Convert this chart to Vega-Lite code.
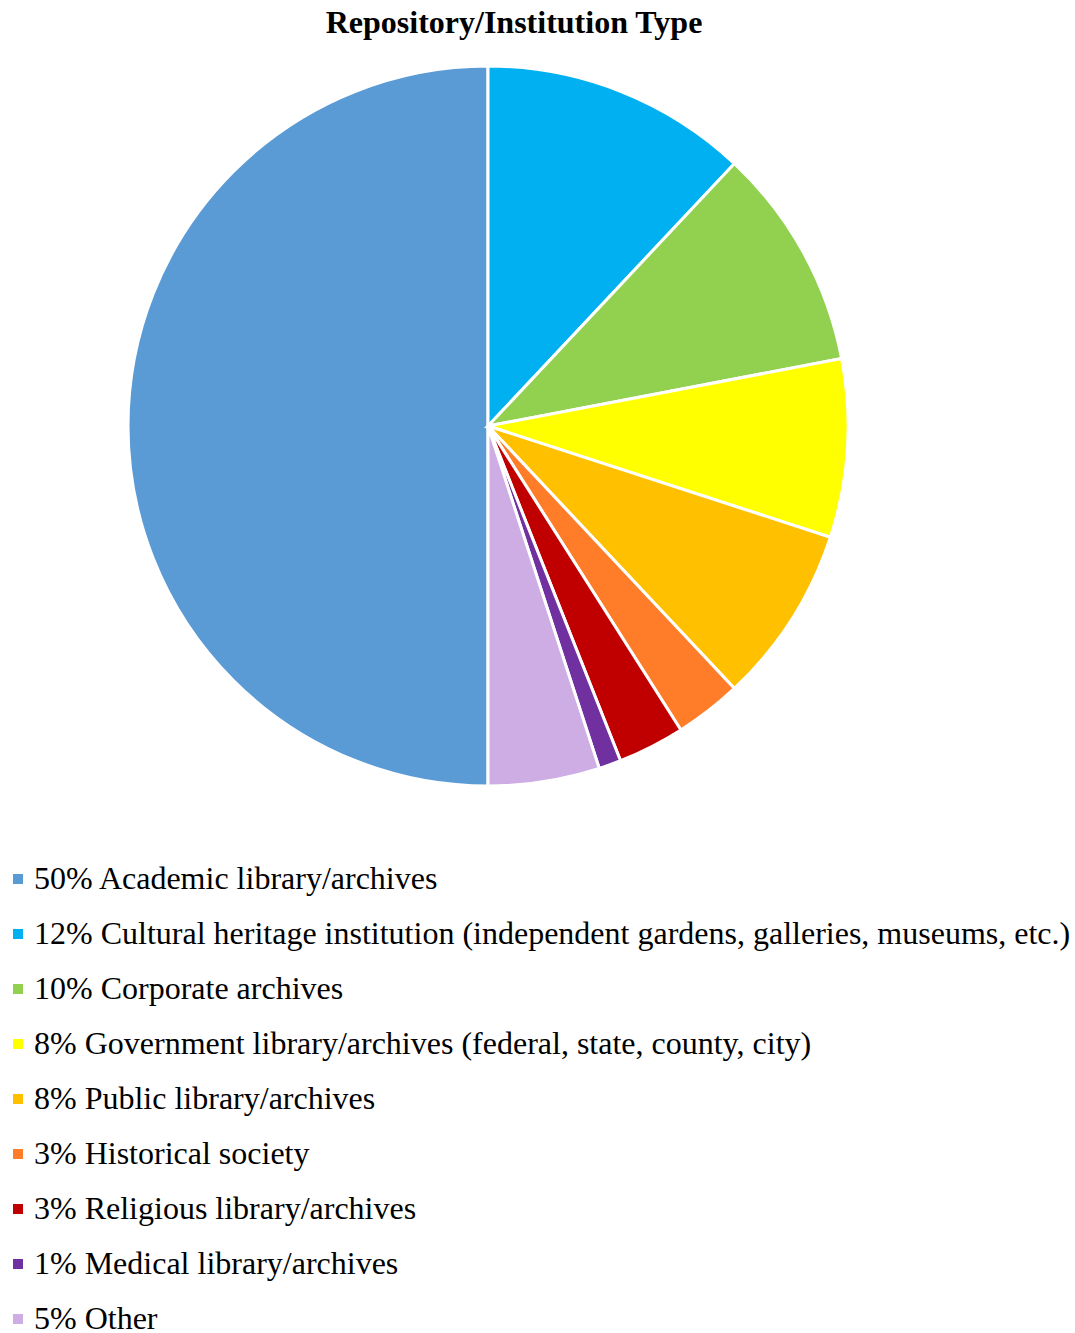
{
  "$schema": "https://vega.github.io/schema/vega-lite/v6.json",
  "autosize": {"type": "none"},
  "padding": {"top": 50, "left": 0, "right": 99, "bottom": 531},
  "width": 976,
  "height": 752,
  "background": "white",
  "title": {
    "text": "Repository/Institution Type",
    "font": "Liberation Serif",
    "fontSize": 32,
    "fontWeight": "bold",
    "color": "black",
    "anchor": "middle",
    "dx": 26,
    "offset": 10
  },
  "data": {
    "values": [
      {"label": "50% Academic library/archives", "pct": 50, "o": 9},
      {"label": "12% Cultural heritage institution (independent gardens, galleries, museums, etc.)", "pct": 12, "o": 1},
      {"label": "10% Corporate archives", "pct": 10, "o": 2},
      {"label": "8% Government library/archives (federal, state, county, city)", "pct": 8, "o": 3},
      {"label": "8% Public library/archives", "pct": 8, "o": 4},
      {"label": "3% Historical society", "pct": 3, "o": 5},
      {"label": "3% Religious library/archives", "pct": 3, "o": 6},
      {"label": "1% Medical library/archives", "pct": 1, "o": 7},
      {"label": "5% Other", "pct": 5, "o": 8}
    ]
  },
  "mark": {"type": "arc", "outerRadius": 360, "stroke": "white", "strokeWidth": 3},
  "encoding": {
    "theta": {"field": "pct", "type": "quantitative", "stack": true},
    "order": {"field": "o", "type": "quantitative"},
    "color": {
      "field": "label",
      "type": "nominal",
      "scale": {
        "domain": [
          "50% Academic library/archives",
          "12% Cultural heritage institution (independent gardens, galleries, museums, etc.)",
          "10% Corporate archives",
          "8% Government library/archives (federal, state, county, city)",
          "8% Public library/archives",
          "3% Historical society",
          "3% Religious library/archives",
          "1% Medical library/archives",
          "5% Other"
        ],
        "range": ["#5B9BD5", "#00B0F0", "#92D050", "#FFFF00", "#FFC000", "#FF7C28", "#C00000", "#7030A0", "#CDADE4"]
      },
      "legend": {
        "title": null,
        "orient": "none",
        "legendX": 2,
        "legendY": 813,
        "symbolType": "square",
        "symbolSize": 100,
        "symbolStrokeWidth": 0,
        "symbolOpacity": 1,
        "labelFont": "Liberation Serif",
        "labelFontSize": 32,
        "labelColor": "black",
        "labelOffset": 0,
        "labelLimit": 1100,
        "rowPadding": 23,
        "padding": 0
      }
    }
  }
}
